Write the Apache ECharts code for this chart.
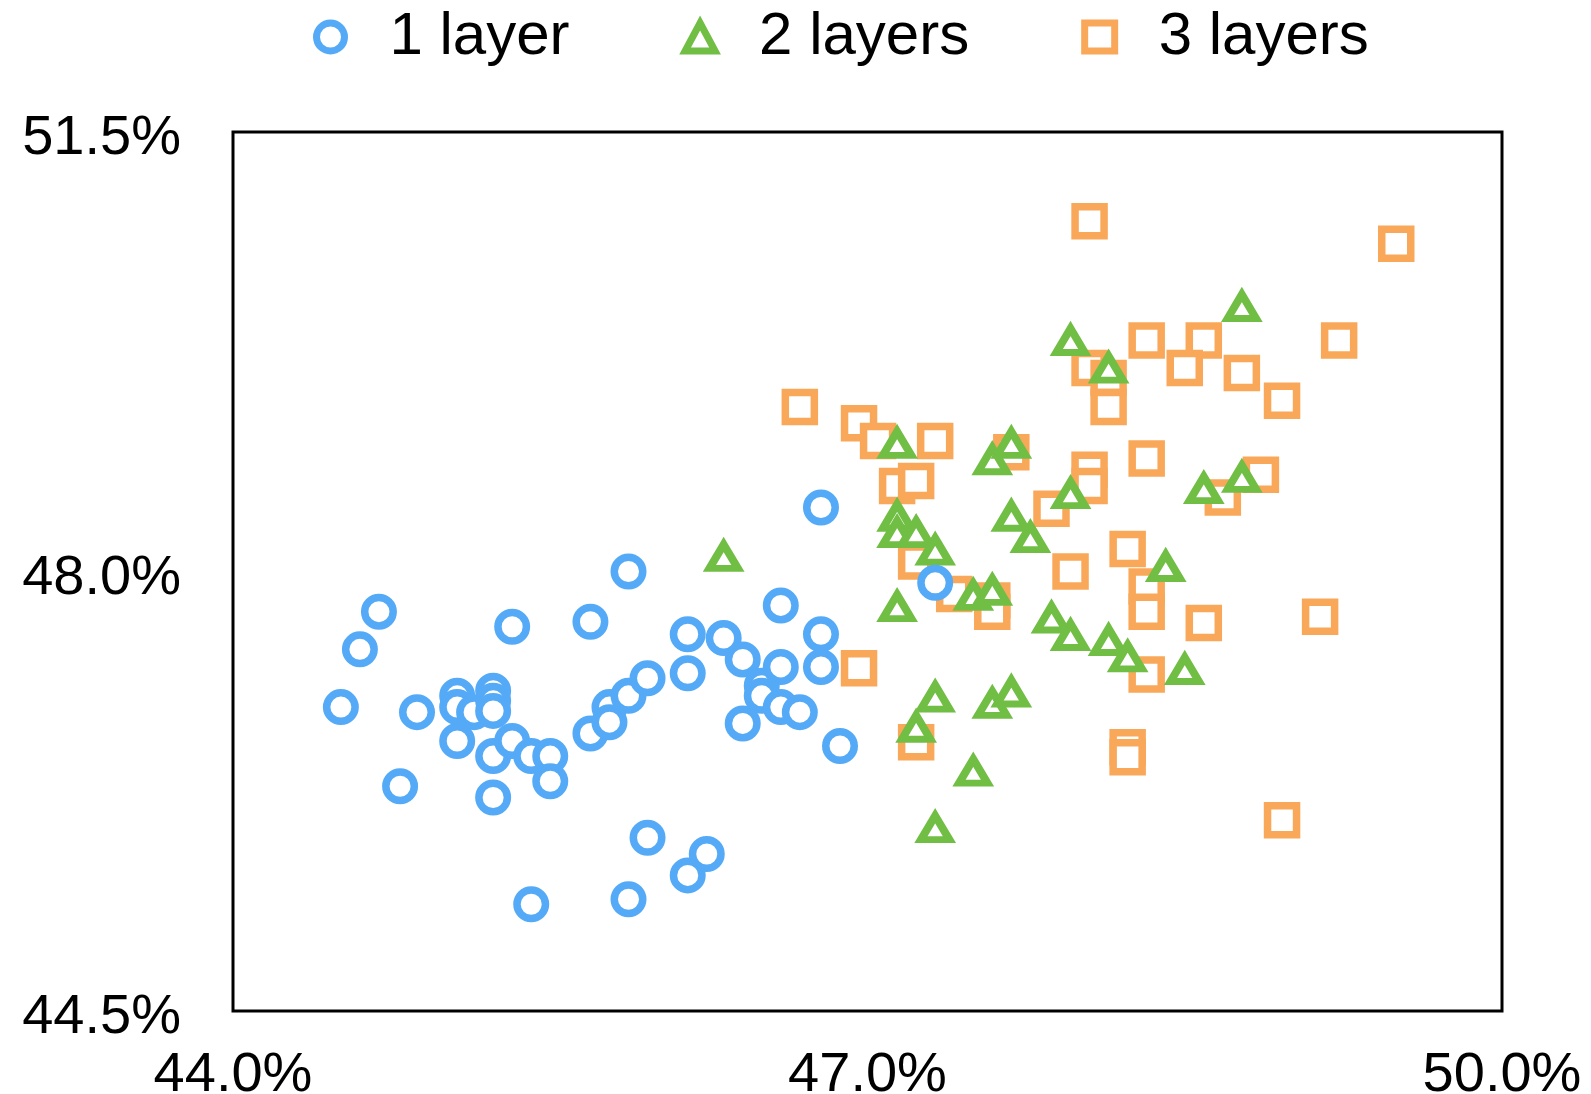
<!DOCTYPE html>
<html>
<head>
<meta charset="utf-8">
<script src="https://cdn.jsdelivr.net/npm/echarts@6/dist/echarts.min.js"></script>
<style>
html,body{margin:0;padding:0;background:#fff;}
#chart{width:1591px;height:1094px;}
</style>
</head>
<body>
<div id="chart"></div>
<script>
const seriesNames = ['1 layer', '2 layers', '3 layers'];
const seriesColors = ['#55AAF7', '#71BE44', '#F9A85A'];
const xTicks = [44.0, 47.0, 50.0];
const yTicks = [44.5, 48.0, 51.5];

const oneLayer = [
  [44.51, 46.92], [44.60, 47.38], [44.69, 47.68], [44.79, 46.29], [44.87, 46.88],
  [45.06, 47.01], [45.06, 46.92], [45.06, 46.65], [45.14, 46.88], [45.23, 47.05],
  [45.23, 46.97], [45.23, 46.89], [45.23, 46.53], [45.23, 46.20], [45.32, 47.56],
  [45.32, 46.65], [45.41, 46.53], [45.50, 46.53], [45.50, 46.33], [45.41, 45.35],
  [45.69, 47.60], [45.69, 46.71], [45.78, 46.92], [45.78, 46.80], [45.87, 48.00],
  [45.87, 47.01], [45.96, 47.15], [45.96, 45.88], [45.87, 45.39], [46.15, 47.50],
  [46.15, 47.19], [46.15, 45.58], [46.24, 45.75], [46.32, 47.47], [46.41, 47.30],
  [46.41, 46.79], [46.50, 47.09], [46.50, 47.01], [46.59, 47.73], [46.59, 47.24],
  [46.59, 46.92], [46.68, 46.88], [46.78, 48.51], [46.78, 47.50], [46.78, 47.24],
  [46.87, 46.61], [47.32, 47.91]
];
const twoLayers = [
  [46.32, 48.12], [47.14, 49.02], [47.14, 48.44], [47.14, 48.31], [47.23, 48.31],
  [47.32, 48.17], [47.14, 47.72], [47.59, 48.89], [47.68, 49.02], [47.68, 48.44],
  [47.77, 48.27], [47.50, 47.81], [47.59, 47.85], [47.32, 47.00], [47.23, 46.76],
  [47.59, 46.95], [47.68, 47.04], [47.50, 46.41], [47.32, 45.96], [47.96, 49.84],
  [48.14, 49.62], [47.96, 48.62], [47.87, 47.63], [47.96, 47.49], [48.14, 47.45],
  [48.23, 47.32], [48.41, 48.04], [48.50, 47.22], [48.59, 48.66], [48.77, 50.11],
  [48.77, 48.75]
];
const threeLayers = [
  [48.05, 50.79], [46.68, 49.31], [46.96, 49.18], [47.05, 49.04], [47.32, 49.04],
  [47.14, 48.68], [47.23, 48.72], [47.68, 48.95], [48.05, 49.62], [48.14, 49.54],
  [48.14, 49.31], [48.32, 49.84], [48.59, 49.84], [48.50, 49.62], [48.77, 49.58],
  [48.96, 49.36], [49.23, 49.84], [49.50, 50.61], [48.32, 48.90], [48.05, 48.81],
  [48.05, 48.68], [47.87, 48.50], [48.86, 48.77], [48.68, 48.59], [48.23, 48.18],
  [47.96, 48.00], [48.32, 47.88], [48.32, 47.68], [48.59, 47.59], [49.14, 47.64],
  [47.41, 47.82], [47.59, 47.77], [47.59, 47.68], [47.23, 48.08], [46.96, 47.23],
  [48.32, 47.18], [47.23, 46.64], [48.23, 46.60], [48.23, 46.52], [48.96, 46.02]
];

const FONT = "'Liberation Sans', Arial, Helvetica, sans-serif";
const chart = echarts.init(document.getElementById('chart'), null, {renderer: 'canvas'});

function mkSeries(name, data, symbol, size, color, z) {
  return {
    name: name,
    type: 'scatter',
    data: data,
    symbol: symbol,
    symbolSize: size,
    z: z,
    itemStyle: {color: '#ffffff', borderColor: color, borderWidth: 7.5, opacity: 1},
    emphasis: {disabled: true}
  };
}

chart.setOption({
  backgroundColor: '#ffffff',
  animation: false,
  color: seriesColors,
  legend: {
    show: true,
    left: 308,
    top: 1,
    itemWidth: 30,
    itemHeight: 28,
    itemGap: 112,
    symbolKeepAspect: false,
    itemStyle: {borderWidth: 7},
    textStyle: {color: '#000', fontFamily: FONT, fontSize: 60, lineHeight: 62, padding: [0, 0, 0, 39]},
    data: seriesNames
  },
  grid: {
    left: 233, right: 89, top: 132, bottom: 83,
    show: true, borderColor: '#000', borderWidth: 3,
    backgroundColor: 'transparent',
    containLabel: false,
    outerBoundsMode: 'none'
  },
  xAxis: {
    type: 'value',
    min: xTicks[0], max: xTicks[xTicks.length - 1],
    axisLine: {show: false},
    axisTick: {show: false},
    splitLine: {show: false},
    axisLabel: {
      margin: 37,
      customValues: xTicks,
      formatter: v => v.toFixed(1) + '%',
      showMinLabel: true, showMaxLabel: true,
      color: '#000', fontFamily: FONT, fontSize: 56, lineHeight: 56
    }
  },
  yAxis: {
    type: 'value',
    min: yTicks[0], max: yTicks[yTicks.length - 1],
    axisLine: {show: false},
    axisTick: {show: false},
    splitLine: {show: false},
    axisLabel: {
      margin: 52,
      customValues: yTicks,
      formatter: v => v.toFixed(1) + '%',
      showMinLabel: true, showMaxLabel: true,
      color: '#000', fontFamily: FONT, fontSize: 56, lineHeight: 14,
      verticalAlign: 'top'
    }
  },
  series: [
    mkSeries(seriesNames[0], oneLayer, 'circle', 28.5, seriesColors[0], 4),
    mkSeries(seriesNames[1], twoLayers, 'triangle', [28.5, 24], seriesColors[1], 3),
    mkSeries(seriesNames[2], threeLayers, 'rect', 29, seriesColors[2], 2)
  ]
});
</script>
</body>
</html>
